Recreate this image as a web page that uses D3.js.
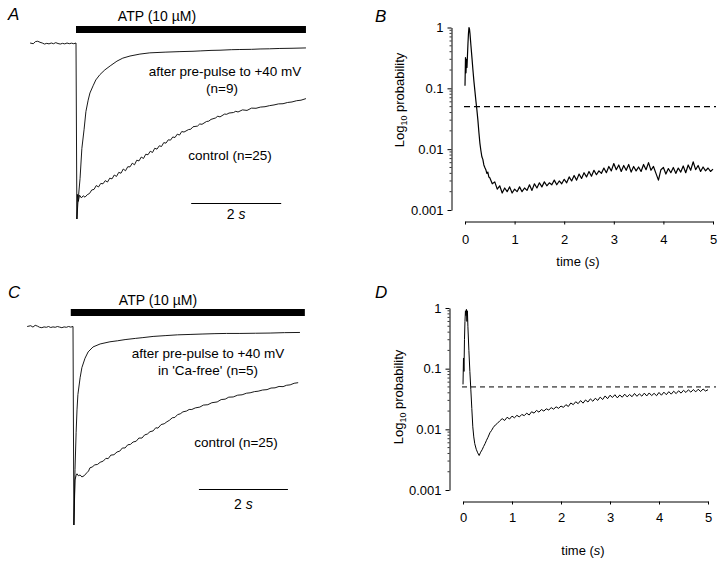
<!DOCTYPE html>
<html><head><meta charset="utf-8">
<script src="https://cdn.jsdelivr.net/npm/d3@7"></script>
<style>body{margin:0;background:#fff} text{font-family:"Liberation Sans",Arial,Helvetica,sans-serif;fill:#000}</style>
</head><body><svg id="c" width="720" height="564"></svg>
<script>
// ---------- data ----------
const timeTicks = [0, 1, 2, 3, 4, 5];
const probTicks = [1, 0.1, 0.01, 0.001];
const probLabels = ["1", "0.1", "0.01", "0.001"];
const threshold = 0.05;
const scaleBarSeconds = 2;

// normalized current (0 = baseline, -1 = peak), time in s
const baselineA = [[-1.02,0.0],[-0.95,-0.004],[-0.9,0.008],[-0.85,0.01],[-0.8,0.004],[-0.75,0.0],[-0.7,-0.006],[-0.65,-0.002],[-0.6,-0.005],[-0.55,0.0],[-0.5,-0.004],[-0.45,0.002],[-0.4,-0.003],[-0.35,-0.006],[-0.3,-0.002],[-0.25,-0.005],[-0.2,0.0],[-0.15,-0.004],[-0.1,-0.001],[-0.05,-0.004],[0,0.0]];
const controlA = [[0,0],[0.02,-1.0],[0.03,-0.86],[0.05,-0.9],[0.08,-0.865],[0.12,-0.88],[0.16,-0.868],[0.2,-0.876],[0.25,-0.862],[0.3,-0.855],[0.35,-0.835],[0.4,-0.832],[0.45,-0.81],[0.5,-0.818],[0.55,-0.798],[0.6,-0.8],[0.65,-0.782],[0.7,-0.79],[0.75,-0.768],[0.8,-0.772],[0.85,-0.75],[0.9,-0.758],[0.95,-0.735],[1.0,-0.74],[1.05,-0.716],[1.1,-0.726],[1.15,-0.703],[1.2,-0.704],[1.25,-0.683],[1.3,-0.692],[1.35,-0.666],[1.4,-0.67],[1.45,-0.648],[1.5,-0.656],[1.55,-0.632],[1.6,-0.635],[1.65,-0.615],[1.7,-0.622],[1.75,-0.598],[1.8,-0.603],[1.85,-0.584],[1.9,-0.588],[1.95,-0.566],[2.0,-0.569],[2.05,-0.55],[2.1,-0.552],[2.15,-0.534],[2.2,-0.537],[2.25,-0.518],[2.3,-0.523],[2.35,-0.503],[2.4,-0.506],[2.5,-0.492],[2.55,-0.49],[2.6,-0.476],[2.7,-0.472],[2.75,-0.46],[2.8,-0.462],[2.9,-0.446],[2.95,-0.444],[3.0,-0.434],[3.1,-0.426],[3.15,-0.416],[3.2,-0.42],[3.3,-0.404],[3.35,-0.405],[3.4,-0.398],[3.5,-0.395],[3.55,-0.388],[3.6,-0.392],[3.7,-0.38],[3.8,-0.383],[3.9,-0.37],[4.0,-0.371],[4.1,-0.364],[4.2,-0.362],[4.3,-0.356],[4.4,-0.352],[4.5,-0.346],[4.6,-0.345],[4.7,-0.338],[4.8,-0.335],[4.9,-0.328],[5.0,-0.325],[5.11,-0.316]];
const prepulseA = [[0.02,-1.0],[0.04,-0.915],[0.09,-0.77],[0.13,-0.6],[0.18,-0.49],[0.22,-0.39],[0.27,-0.325],[0.31,-0.284],[0.38,-0.243],[0.44,-0.21],[0.53,-0.18],[0.64,-0.153],[0.76,-0.13],[0.91,-0.103],[1.04,-0.086],[1.2,-0.074],[1.42,-0.063],[1.64,-0.056],[1.98,-0.052],[2.31,-0.049],[2.6,-0.047],[2.76,-0.045],[3.0,-0.042],[3.2,-0.041],[3.45,-0.038],[3.64,-0.037],[3.9,-0.036],[4.09,-0.034],[4.3,-0.033],[4.53,-0.031],[4.8,-0.03],[5.11,-0.028]];

const baselineC = [[-1.03,0.0],[-0.95,0.004],[-0.9,-0.003],[-0.85,0.006],[-0.8,0.002],[-0.75,-0.004],[-0.7,-0.006],[-0.65,-0.002],[-0.6,-0.004],[-0.55,0.0],[-0.5,-0.005],[-0.45,-0.002],[-0.4,-0.004],[-0.35,0.0],[-0.3,-0.003],[-0.25,-0.006],[-0.2,-0.002],[-0.15,-0.004],[-0.1,0.0],[-0.05,-0.003],[0,0.0]];
const controlC = [[0,0],[0.02,-1.0],[0.045,-0.773],[0.07,-0.75],[0.09,-0.742],[0.12,-0.752],[0.16,-0.748],[0.2,-0.758],[0.25,-0.752],[0.31,-0.737],[0.35,-0.728],[0.38,-0.712],[0.43,-0.708],[0.49,-0.697],[0.55,-0.695],[0.61,-0.684],[0.68,-0.678],[0.74,-0.664],[0.79,-0.666],[0.85,-0.648],[0.92,-0.646],[0.99,-0.632],[1.05,-0.628],[1.11,-0.612],[1.17,-0.612],[1.23,-0.596],[1.29,-0.594],[1.35,-0.582],[1.42,-0.578],[1.48,-0.562],[1.55,-0.562],[1.61,-0.546],[1.67,-0.542],[1.73,-0.53],[1.8,-0.526],[1.86,-0.51],[1.91,-0.512],[1.98,-0.494],[2.05,-0.49],[2.11,-0.48],[2.17,-0.472],[2.23,-0.46],[2.29,-0.458],[2.35,-0.444],[2.41,-0.44],[2.47,-0.43],[2.55,-0.426],[2.61,-0.418],[2.67,-0.418],[2.75,-0.41],[2.85,-0.406],[2.93,-0.396],[3.03,-0.394],[3.12,-0.384],[3.24,-0.38],[3.33,-0.368],[3.42,-0.366],[3.5,-0.356],[3.6,-0.355],[3.7,-0.346],[3.8,-0.344],[3.9,-0.336],[3.98,-0.334],[4.08,-0.328],[4.16,-0.326],[4.26,-0.32],[4.36,-0.318],[4.45,-0.31],[4.54,-0.309],[4.63,-0.302],[4.72,-0.303],[4.8,-0.296],[4.88,-0.294],[4.97,-0.286],[5.06,-0.283]];
const prepulseC = [[0.02,-1.0],[0.045,-0.72],[0.07,-0.535],[0.09,-0.42],[0.11,-0.343],[0.16,-0.258],[0.2,-0.207],[0.27,-0.16],[0.34,-0.128],[0.45,-0.103],[0.61,-0.088],[0.83,-0.077],[1.0,-0.072],[1.17,-0.066],[1.4,-0.06],[1.57,-0.056],[1.8,-0.05],[2.07,-0.046],[2.35,-0.042],[2.63,-0.04],[2.9,-0.038],[3.19,-0.036],[3.45,-0.035],[3.75,-0.035],[4.1,-0.034],[4.43,-0.033],[4.75,-0.031],[5.1,-0.03]];

// probability vs time
const probB = [[0.0,0.11],[0.01,0.32],[0.02,0.18],[0.03,0.3],[0.04,0.22],[0.05,0.35],[0.06,0.55],[0.07,0.8],[0.08,1.0],[0.09,0.95],[0.1,0.8],[0.12,0.5],[0.14,0.32],[0.16,0.2],[0.18,0.13],[0.2,0.09],[0.22,0.062],[0.24,0.044],[0.26,0.03],[0.28,0.019],[0.3,0.0126],[0.32,0.0095],[0.34,0.0075],[0.36,0.0068],[0.38,0.0055],[0.4,0.005],[0.42,0.0046],[0.44,0.004],[0.46,0.0042],[0.48,0.0035],
[0.50,0.0034],[0.55,0.0027],[0.60,0.0029],[0.65,0.0022],[0.70,0.0025],[0.75,0.0019],[0.80,0.0023],[0.85,0.0020],[0.90,0.0024],[0.95,0.0019],[1.00,0.0022],[1.05,0.0020],[1.10,0.0024],[1.15,0.0020],[1.20,0.0023],[1.25,0.0021],[1.30,0.0026],[1.35,0.0021],[1.40,0.0027],[1.45,0.0023],[1.50,0.0028],[1.55,0.0024],[1.60,0.0029],[1.65,0.0025],[1.70,0.0028],[1.75,0.0026],[1.80,0.0031],[1.85,0.0026],[1.90,0.0030],[1.95,0.0027],[2.00,0.0032],[2.05,0.0028],[2.10,0.0035],[2.15,0.0030],[2.20,0.0037],[2.25,0.0031],[2.30,0.0039],[2.35,0.0033],[2.40,0.0041],[2.45,0.0035],[2.50,0.0043],[2.55,0.0036],[2.60,0.0045],[2.65,0.0038],[2.70,0.0044],[2.75,0.0040],[2.80,0.0049],[2.85,0.0041],[2.90,0.0052],[2.95,0.0044],[3.00,0.0058],[3.05,0.0046],[3.10,0.0055],[3.15,0.0043],[3.20,0.0054],[3.25,0.0045],[3.30,0.0056],[3.35,0.0042],[3.40,0.0052],[3.45,0.0044],[3.50,0.0051],[3.55,0.0043],[3.60,0.0056],[3.65,0.0046],[3.70,0.0060],[3.75,0.0045],[3.80,0.0052],[3.85,0.0040],[3.90,0.0031],[3.95,0.0046],[4.00,0.0050],[4.05,0.0039],[4.10,0.0048],[4.15,0.0041],[4.20,0.0050],[4.25,0.0040],[4.30,0.0049],[4.35,0.0042],[4.40,0.0053],[4.45,0.0041],[4.50,0.0055],[4.55,0.0045],[4.60,0.0062],[4.65,0.0046],[4.70,0.0054],[4.75,0.0043],[4.80,0.0051],[4.85,0.0044],[4.90,0.0049],[4.95,0.0043],[5.00,0.0047]];

const probD = [[0.0,0.055],[0.01,0.15],[0.02,0.09],[0.03,0.3],[0.04,0.6],[0.05,0.9],[0.06,0.75],[0.07,0.95],[0.08,0.6],[0.09,0.9],[0.1,0.5],[0.12,0.2],[0.14,0.09],[0.16,0.045],[0.18,0.022],[0.2,0.011],[0.22,0.0075],[0.24,0.0058],[0.27,0.0047],[0.3,0.0041],[0.33,0.0037],[0.36,0.0042],[0.39,0.0046],[0.42,0.0052],[0.45,0.0058],[0.48,0.0066],[0.51,0.0074],[0.55,0.0088],[0.58,0.0095],[0.62,0.0108],[0.66,0.0118],[0.7,0.0125],[0.75,0.0138],
[0.80,0.0150],[0.85,0.0140],[0.90,0.0158],[0.95,0.0148],[1.00,0.0165],[1.05,0.0155],[1.10,0.0170],[1.15,0.0160],[1.20,0.0176],[1.25,0.0168],[1.30,0.0185],[1.35,0.0172],[1.40,0.0195],[1.45,0.0185],[1.50,0.0205],[1.55,0.0192],[1.60,0.0212],[1.65,0.0200],[1.70,0.0218],[1.75,0.0208],[1.80,0.0228],[1.85,0.0215],[1.90,0.0235],[1.95,0.0222],[2.00,0.0242],[2.05,0.0230],[2.10,0.0255],[2.15,0.0238],[2.20,0.0272],[2.25,0.0255],[2.30,0.0285],[2.35,0.0265],[2.40,0.0298],[2.45,0.0270],[2.50,0.0305],[2.55,0.0282],[2.60,0.0318],[2.65,0.0290],[2.70,0.0325],[2.75,0.0300],[2.80,0.0340],[2.85,0.0310],[2.90,0.0355],[2.95,0.0320],[3.00,0.0365],[3.05,0.0335],[3.10,0.0372],[3.15,0.0330],[3.20,0.0368],[3.25,0.0338],[3.30,0.0380],[3.35,0.0342],[3.40,0.0375],[3.45,0.0345],[3.50,0.0390],[3.55,0.0350],[3.60,0.0385],[3.65,0.0352],[3.70,0.0395],[3.75,0.0355],[3.80,0.0398],[3.85,0.0360],[3.90,0.0392],[3.95,0.0358],[4.00,0.0405],[4.05,0.0365],[4.10,0.0410],[4.15,0.0372],[4.20,0.0418],[4.25,0.0380],[4.30,0.0425],[4.35,0.0388],[4.40,0.0432],[4.45,0.0395],[4.50,0.0440],[4.55,0.0405],[4.60,0.0448],[4.65,0.0410],[4.70,0.0452],[4.75,0.0415],[4.80,0.0458],[4.85,0.0420],[4.90,0.0462],[4.95,0.0428],[5.00,0.0450]];

// ---------- drawing ----------
const svg = d3.select("#c");
svg.append("rect").attr("width",720).attr("height",564).attr("fill","#fff");

function tracePanel(o){
  const g = svg.append("g");
  const x = d3.scaleLinear().domain([0,5]).range([o.x0, o.x0 + 5*o.pps]);
  const y = d3.scaleLinear().domain([-1,0]).range([o.yPeak, o.yBase]);
  const line = d3.line().x(d=>x(d[0])).y(d=>y(d[1]));
  g.append("text").attr("x",o.letterX).attr("y",o.letterY).attr("font-size",17).attr("font-style","italic").text(o.letter);
  g.append("rect").attr("x",x(o.atp[0])).attr("y",o.barY).attr("width",x(o.atp[1])-x(o.atp[0])).attr("height",7).attr("fill","#000");
  g.append("text").attr("x",o.atpLabelX).attr("y",o.atpLabelY).attr("font-size",14).attr("text-anchor","middle").text("ATP (10 \u00B5M)");
  [o.baseline, o.control, o.prepulse].forEach(d=>{
    g.append("path").attr("d",line(d)).attr("fill","none").attr("stroke","#000").attr("stroke-width",0.9).attr("stroke-linejoin","round");
  });
  o.labels.forEach(l=>{
    g.append("text").attr("x",l[1]).attr("y",l[2]).attr("font-size",13.5).attr("text-anchor","middle").text(l[0]);
  });
  g.append("line").attr("x1",x(o.sbStart)).attr("x2",x(o.sbStart+scaleBarSeconds)).attr("y1",o.sbY).attr("y2",o.sbY).attr("stroke","#000").attr("stroke-width",1);
  const t = g.append("text").attr("x",(x(o.sbStart)+x(o.sbStart+scaleBarSeconds))/2).attr("y",o.sbY+o.sbLabelDy).attr("font-size",14).attr("text-anchor","middle");
  t.append("tspan").text(scaleBarSeconds+" ");
  t.append("tspan").attr("font-style","italic").text("s");
}

tracePanel({letter:"A",letterX:8,letterY:20,x0:76,pps:45,yBase:43,yPeak:219,atp:[0,5.11],barY:26,atpLabelX:157,atpLabelY:21,
  baseline:baselineA,control:controlA,prepulse:prepulseA,
  labels:[["after pre-pulse to +40 mV",225,76],["(n=9)",222,93],["control (n=25)",230,160]],
  sbStart:2.56,sbY:203.5,sbLabelDy:15});
tracePanel({letter:"C",letterX:8,letterY:298,x0:73,pps:44.5,yBase:326.5,yPeak:525,atp:[-0.05,5.21],barY:309,atpLabelX:158,atpLabelY:305,
  baseline:baselineC,control:controlC,prepulse:prepulseC,
  labels:[["after pre-pulse to +40 mV",208,358],["in 'Ca-free' (n=5)",208,375],["control (n=25)",236,447]],
  sbStart:2.83,sbY:489.5,sbLabelDy:19});

function probPanel(o){
  const g = svg.append("g");
  const x = d3.scaleLinear().domain([0,5]).range([o.x0,o.x5]);
  const y = d3.scaleLog().domain([0.001,1]).range([o.yLow,o.yTop]);
  g.append("text").attr("x",o.letterX).attr("y",o.letterY).attr("font-size",17).attr("font-style","italic").text(o.letter);
  // y axis
  const ya = g.append("g").attr("transform",`translate(${o.yAxisX},0)`)
    .call(d3.axisLeft(y).tickValues(probTicks).tickFormat((d,i)=>probLabels[i]).tickSize(4).tickSizeOuter(0).tickPadding(4));
  ya.selectAll("text").attr("font-size",13).attr("font-family","Liberation Sans, Arial, sans-serif").attr("fill","#000");
  ya.selectAll("line,path").attr("stroke","#000");
  const minor = [];
  [0.001,0.01,0.1].forEach(dec=>{[2,3,4,5,6,7,8,9].forEach(k=>minor.push(k*dec));});
  g.append("g").selectAll("line").data(minor).join("line")
    .attr("x1",o.yAxisX-2).attr("x2",o.yAxisX).attr("y1",d=>y(d)).attr("y2",d=>y(d)).attr("stroke","#000").attr("stroke-width",0.8);
  // x axis
  const xa = g.append("g").attr("transform",`translate(0,${o.xAxisY})`)
    .call(d3.axisBottom(x).tickValues(timeTicks).tickFormat(d3.format("d")).tickSize(3).tickSizeOuter(0).tickPadding(o.xPad));
  xa.selectAll("text").attr("font-size",13).attr("font-family","Liberation Sans, Arial, sans-serif").attr("fill","#000");
  xa.selectAll("line,path").attr("stroke","#000");
  // labels
  const tl = g.append("text").attr("x",o.timeX).attr("y",o.timeY).attr("font-size",13).attr("text-anchor","middle");
  tl.append("tspan").text("time (");
  tl.append("tspan").attr("font-style","italic").text("s");
  tl.append("tspan").text(")");
  const yl = g.append("text").attr("transform",`translate(${o.ylabX},${o.ylabY}) rotate(-90)`).attr("font-size",13).attr("text-anchor","middle");
  yl.append("tspan").text("Log");
  yl.append("tspan").attr("font-size",9).attr("dy",3).text("10");
  yl.append("tspan").attr("dy",-3).text(" probability");
  // threshold
  g.append("line").attr("x1",x(0)-1).attr("x2",716).attr("y1",y(threshold)).attr("y2",y(threshold))
    .attr("stroke","#000").attr("stroke-width",o.dashW).attr("stroke-dasharray",o.dash);
  // trace
  const line = d3.line().x(d=>x(d[0])).y(d=>y(d[1]));
  g.append("path").attr("d",line(o.data)).attr("fill","none").attr("stroke","#000").attr("stroke-width",o.lw).attr("stroke-linejoin","round");
}

probPanel({letter:"B",letterX:375,letterY:22,x0:465,x5:713,yLow:210,yTop:27.5,yAxisX:451.5,xAxisY:221.5,xPad:10,
  timeX:578,timeY:266,ylabX:404,ylabY:100,dash:"6,4",dashW:1.4,lw:1.2,data:probB});
probPanel({letter:"D",letterX:375,letterY:298,x0:463,x5:708,yLow:490,yTop:308,yAxisX:449.5,xAxisY:501.5,xPad:8,
  timeX:583,timeY:555,ylabX:403,ylabY:397,dash:"5,4",dashW:1,lw:1.0,data:probD});
</script></body></html>
